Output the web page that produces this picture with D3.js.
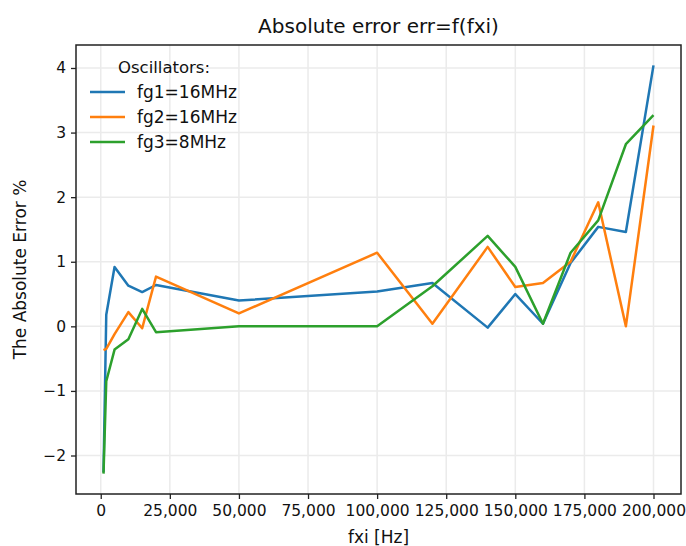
<!DOCTYPE html>
<html>
<head>
<meta charset="utf-8">
<script src="https://cdn.jsdelivr.net/npm/d3@7"></script>
<style>
  html, body { margin: 0; padding: 0; background: #fff; }
  svg { display: block; font-family: "DejaVu Sans", sans-serif; }
</style>
</head>
<body>
<svg id="chart" width="686" height="546"></svg>
<script>
// Input frequencies fxi [Hz]
const fxi = [1000, 2000, 5000, 10000, 15000, 20000, 50000, 100000, 120000,
             140000, 150000, 160000, 170000, 180000, 190000, 200000];

// Absolute error (%) for each oscillator
const errFg1 = [-2.26, 0.18, 0.92, 0.63, 0.53, 0.64, 0.40, 0.54, 0.67,
                -0.02, 0.50, 0.04, 0.98, 1.54, 1.46, 4.04];
const errFg2 = [-0.37, -0.35, -0.12, 0.22, -0.03, 0.77, 0.20, 1.14, 0.04,
                1.23, 0.61, 0.67, 1.00, 1.92, 0.00, 3.11];
const errFg3 = [-2.28, -0.85, -0.36, -0.20, 0.27, -0.09, 0.00, 0.00, 0.62,
                1.40, 0.92, 0.04, 1.14, 1.64, 2.82, 3.27];

const seriesNames = ["fg1=16MHz", "fg2=16MHz", "fg3=8MHz"];
const seriesColors = ["#1f77b4", "#ff7f0e", "#2ca02c"];
const xTicks = [0, 25000, 50000, 75000, 100000, 125000, 150000, 175000, 200000];
const yTicks = [-2, -1, 0, 1, 2, 3, 4];

const series = [errFg1, errFg2, errFg3].map((vals, i) => ({
  name: seriesNames[i],
  color: seriesColors[i],
  points: fxi.map((f, j) => [f, vals[j]])
}));

const svg = d3.select("#chart");
const frame = { left: 76, right: 681, top: 45, bottom: 494 };

// 5% padding on both axes, as in a default plotting layout
function padded(extent) {
  const pad = (extent[1] - extent[0]) * 0.05;
  return [extent[0] - pad, extent[1] + pad];
}
const allY = errFg1.concat(errFg2, errFg3);
const x = d3.scaleLinear().domain(padded(d3.extent(fxi))).range([frame.left, frame.right]);
const y = d3.scaleLinear().domain(padded(d3.extent(allY))).range([frame.bottom, frame.top]);

// Grid
const grid = svg.append("g").attr("stroke", "#ebebeb").attr("stroke-width", 1.5);
grid.selectAll("line.gx").data(xTicks).join("line")
  .attr("x1", d => x(d)).attr("x2", d => x(d))
  .attr("y1", frame.top).attr("y2", frame.bottom);
grid.selectAll("line.gy").data(yTicks).join("line")
  .attr("x1", frame.left).attr("x2", frame.right)
  .attr("y1", d => y(d)).attr("y2", d => y(d));

// Data lines
const line = d3.line().x(d => x(d[0])).y(d => y(d[1]));
svg.append("g").selectAll("path").data(series).join("path")
  .attr("fill", "none")
  .attr("stroke", d => d.color)
  .attr("stroke-width", 2.5)
  .attr("stroke-linejoin", "round")
  .attr("d", d => line(d.points));

// Axes
const xAxis = d3.axisBottom(x).tickValues(xTicks).tickFormat(d3.format(",")).tickSize(5).tickPadding(5);
const yAxis = d3.axisLeft(y).tickValues(yTicks).tickFormat(d3.format("d")).tickSize(5).tickPadding(5);

const gx = svg.append("g").attr("transform", `translate(0,${frame.bottom})`).call(xAxis);
const gy = svg.append("g").attr("transform", `translate(${frame.left},0)`).call(yAxis);
[gx, gy].forEach(g => {
  g.select(".domain").remove();
  g.selectAll(".tick line").attr("stroke", "#222").attr("stroke-width", 1.3);
  g.selectAll(".tick text").attr("fill", "#111").style("font-size", "15.5px")
    .style("font-family", "DejaVu Sans, sans-serif");
});
gx.selectAll(".tick text").attr("dy", "0.78em");

// Frame
svg.append("rect")
  .attr("x", frame.left).attr("y", frame.top)
  .attr("width", frame.right - frame.left).attr("height", frame.bottom - frame.top)
  .attr("fill", "none").attr("stroke", "#222").attr("stroke-width", 1.5);

// Title and axis labels
svg.append("text").attr("x", (frame.left + frame.right) / 2).attr("y", 33)
  .attr("text-anchor", "middle").attr("fill", "#111").style("font-size", "20px")
  .text("Absolute error err=f(fxi)");
svg.append("text").attr("x", (frame.left + frame.right) / 2).attr("y", 543)
  .attr("text-anchor", "middle").attr("fill", "#111").style("font-size", "17px")
  .text("fxi [Hz]");
svg.append("text")
  .attr("transform", `translate(26,${(frame.top + frame.bottom) / 2}) rotate(-90)`)
  .attr("text-anchor", "middle").attr("fill", "#111").style("font-size", "17px")
  .text("The Absolute Error %");

// Legend
const legend = svg.append("g").attr("transform", "translate(90,67)");
legend.append("text").attr("x", 74).attr("y", 6).attr("text-anchor", "middle")
  .attr("fill", "#111").style("font-size", "16.5px").text("Oscillators:");
const items = legend.selectAll("g.item").data(series).join("g")
  .attr("transform", (d, i) => `translate(0,${25 + i * 25})`);
items.append("line").attr("x1", 0).attr("x2", 35).attr("y1", 0).attr("y2", 0)
  .attr("stroke", d => d.color).attr("stroke-width", 2.5);
items.append("text").attr("x", 47).attr("y", 6).attr("fill", "#111")
  .style("font-size", "17px").text(d => d.name);
</script>
</body>
</html>
